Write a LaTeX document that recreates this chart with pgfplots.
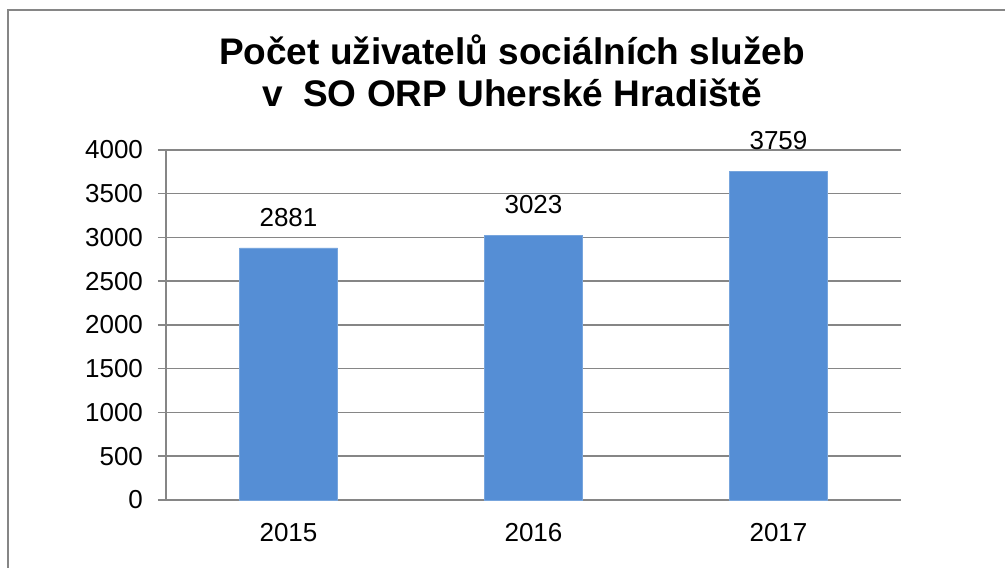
\documentclass[border=0pt]{standalone}
\usepackage{fontspec}
\setmainfont{Liberation Sans}
\usepackage{pgfplots}
\pgfplotsset{compat=1.18}
\definecolor{barblue}{RGB}{85,142,213}
\definecolor{gridgray}{RGB}{134,134,134}
\begin{document}
\begin{tikzpicture}
% page is 502.5pt x 283.5pt (1px of the reference = 0.5pt)
\useasboundingbox (0pt,0pt) rectangle (502.5pt,283.5pt);
\draw[gridgray, line width=1pt] (4pt,-5pt) -- (4pt,278.5pt) -- (510pt,278.5pt);
\node[font=\fontsize{18.5}{21}\selectfont\bfseries, align=center, anchor=base] at (256pt,230pt) {Počet uživatelů sociálních služeb\\v~ SO ORP Uherské Hradiště};
\begin{axis}[
  at={(83pt,33.5pt)}, anchor=south west,
  width=367.5pt, height=175pt, scale only axis,
  ymin=0, ymax=4000, ytick={0,500,...,4000},
  xmin=-0.5, xmax=2.5,
  xtick={0,1,2}, xticklabels={2015,2016,2017},
  extra x ticks={-0.5,0.5,1.5,2.5}, extra x tick labels={},
  extra x tick style={major tick length=4pt, tick style={gridgray, line width=0.75pt}},
  major x tick style={draw=none},
  tick align=outside, major tick length=4pt,
  axis x line*=bottom, axis y line*=left,
  axis line style={gridgray, line width=0.75pt, -},
  ymajorgrids, grid style={gridgray, line width=0.75pt},
  y tick style={gridgray, line width=0.75pt},
  tick label style={font=\fontsize{13}{15}\selectfont},
  /pgf/number format/assume math mode=true,
  /pgf/number format/1000 sep={},
  yticklabel style={xshift=-4pt},
  xticklabel style={yshift=-4pt},
  ybar, bar width=49pt,
  nodes near coords,
  nodes near coords style={font=\fontsize{13}{15}\selectfont, anchor=south, inner sep=0pt, yshift=10.5pt, /pgf/number format/1000 sep={}},
  clip=false,
]
\addplot[fill=barblue, draw=barblue!80!white] coordinates {(0,2881) (1,3023) (2,3759)};
\end{axis}
\end{tikzpicture}
\end{document}
